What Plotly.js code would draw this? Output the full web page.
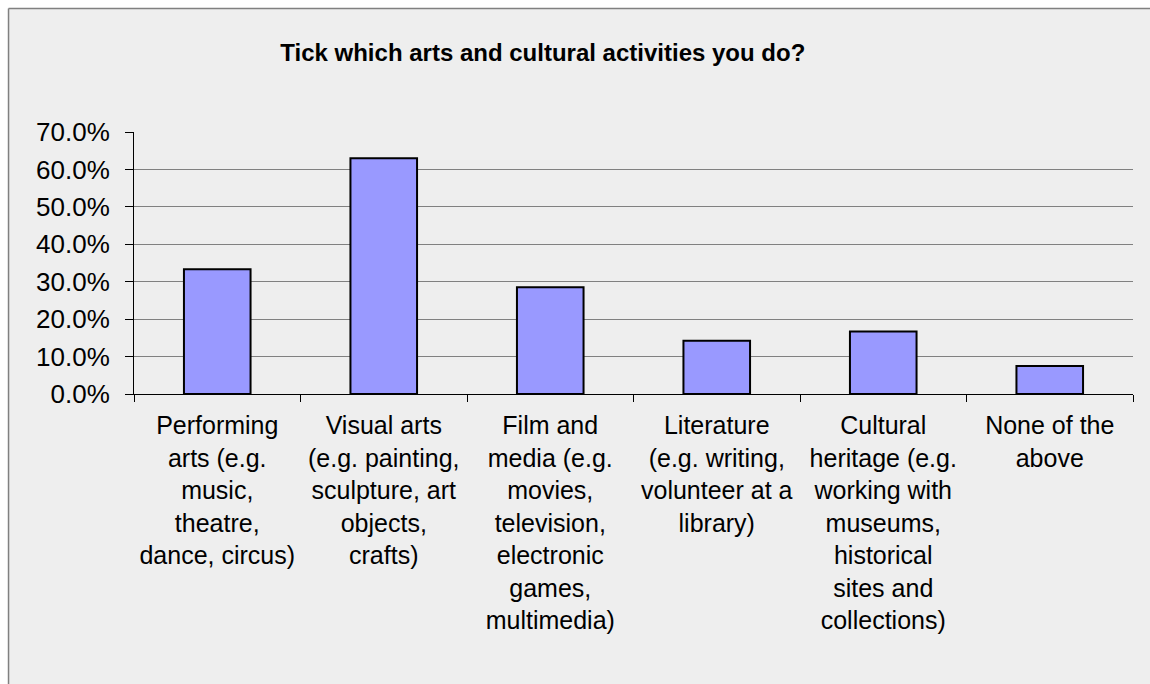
<!DOCTYPE html>
<html>
<head>
<meta charset="utf-8">
<script src="https://cdn.plot.ly/plotly-3.0.1.min.js"></script>
<style>html,body{margin:0;padding:0;background:#eeeeee;overflow:hidden;}#chart{width:1150px;height:684px;}</style>
</head>
<body>
<div id="chart"></div>
<script>
var categories = [
  "Performing<br>arts (e.g.<br>music,<br>theatre,<br>dance, circus)",
  "Visual arts<br>(e.g. painting,<br>sculpture, art<br>objects,<br>crafts)",
  "Film and<br>media (e.g.<br>movies,<br>television,<br>electronic<br>games,<br>multimedia)",
  "Literature<br>(e.g. writing,<br>volunteer at a<br>library)",
  "Cultural<br>heritage (e.g.<br>working with<br>museums,<br>historical<br>sites and<br>collections)",
  "None of the<br>above"
];
var shares = [0.333, 0.630, 0.285, 0.142, 0.167, 0.075];
var yTickValues = [0, 0.1, 0.2, 0.3, 0.4, 0.5, 0.6, 0.7];
var titleText = "Tick which arts and cultural activities you do?";

var trace = {
  type: "bar",
  x: categories,
  y: shares,
  marker: {color: "#9999ff", line: {color: "#000000", width: 2}},
  hoverinfo: "skip"
};

var layout = {
  width: 1150,
  height: 684,
  margin: {l: 134, r: 17, t: 132, b: 290, pad: 0},
  paper_bgcolor: "#eeeeee",
  plot_bgcolor: "rgba(0,0,0,0)",
  font: {family: "Liberation Sans, Arial, sans-serif", color: "#000000"},
  showlegend: false,
  bargap: 0.6,
  title: {
    text: titleText,
    font: {family: "Liberation Sans, Arial, sans-serif", size: 24, weight: "bold", color: "#000"},
    xref: "container", x: 0.472, xanchor: "center",
    yref: "container", y: 0.9225, yanchor: "middle"
  },
  xaxis: {
    type: "category",
    tickson: "boundaries",
    ticks: "outside",
    ticklen: 7,
    tickwidth: 1,
    tickcolor: "#000",
    showline: true,
    linecolor: "#000",
    linewidth: 1,
    showgrid: false,
    tickangle: 0,
    tickfont: {size: 25, family: "Liberation Sans, Arial, sans-serif", color: "#000"},
    ticklabelstandoff: 9,
    fixedrange: true
  },
  yaxis: {
    range: [0, 0.7],
    tickvals: yTickValues,
    tickformat: ".1%",
    ticks: "outside",
    ticklen: 8,
    tickwidth: 1,
    tickcolor: "#000",
    showline: true,
    linecolor: "#000",
    linewidth: 1,
    showgrid: true,
    gridcolor: "#808080",
    gridwidth: 1,
    zeroline: false,
    tickfont: {size: 26, family: "Liberation Sans, Arial, sans-serif", color: "#000"},
    ticklabelstandoff: 10,
    fixedrange: true
  },
  shapes: [
    {type: "rect", xref: "paper", yref: "paper", x0: -0.2, x1: 1.2, y0: 1.4714, y1: 1.6,
     fillcolor: "#ffffff", line: {width: 0}, layer: "below"},
    {type: "rect", xref: "paper", yref: "paper", x0: -0.2, x1: -0.1256, y0: -1.2, y1: 1.6,
     fillcolor: "#ffffff", line: {width: 0}, layer: "below"},
    {type: "line", xref: "paper", yref: "paper", x0: -0.1256, x1: 1.2, y0: 1.4714, y1: 1.4714,
     line: {color: "#808080", width: 1.5}, layer: "below"},
    {type: "line", xref: "paper", yref: "paper", x0: -0.1256, x1: -0.1256, y0: -1.2, y1: 1.4714,
     line: {color: "#808080", width: 1.5}, layer: "below"}
  ]
};

Plotly.newPlot("chart", [trace], layout, {displayModeBar: false, staticPlot: true});
</script>
</body>
</html>
